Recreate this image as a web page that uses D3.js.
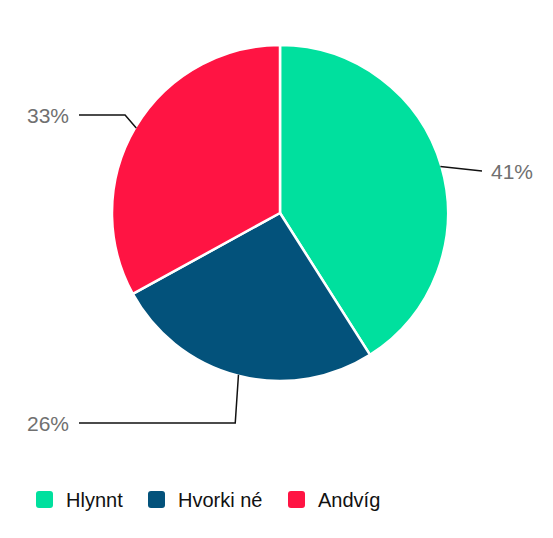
<!DOCTYPE html>
<html>
<head>
<meta charset="utf-8">
<script src="https://cdn.jsdelivr.net/npm/d3@7"></script>
<style>
  body { margin: 0; background: #fff; }
  svg { font-family: "Liberation Sans", Arial, sans-serif; }
</style>
</head>
<body>
<div id="chart"></div>
<script>
// chart data
const categories = ["Hlynnt", "Hvorki né", "Andvíg"];
const values = [41, 26, 33];
const colors = ["#00e09e", "#03527b", "#ff1443"];

const width = 553;
const height = 538;
const cx = 280;
const cy = 213;
const radius = 168;

// vertical spot of each outside label (layout only)
const labelY = [171, 423, 115];

const svg = d3.select("#chart")
              .append("svg")
              .attr("width", width)
              .attr("height", height);

const data = categories.map((c, i) => ({ name: c, value: values[i], color: colors[i], ly: labelY[i] }));

const pie = d3.pie().sort(null).value((d) => d.value);
const arc = d3.arc().innerRadius(0).outerRadius(radius);
const arcs = pie(data);

const g = svg.append("g").attr("transform", "translate(" + cx + "," + cy + ")");

g.selectAll("path")
 .data(arcs)
 .enter()
 .append("path")
 .attr("d", arc)
 .attr("fill", (d) => d.data.color)
 .attr("stroke", "#fff")
 .attr("stroke-width", 2.5)
 .attr("stroke-linejoin", "round");

// leader lines + percentage labels
const total = d3.sum(values);
arcs.forEach((d) => {
    const mid = (d.startAngle + d.endAngle) / 2;
    const sx = Math.sin(mid), sy = -Math.cos(mid);
    const edge = [sx * (radius - 1), sy * (radius - 1)];
    const ly = d.data.ly - cy;
    const right = sx > 0;
    let pts;
    let tx;
    if (right) {
        tx = 211;
        pts = [edge, [tx - 9, ly]];
    } else {
        tx = -201;
        const kx = sx * (radius + 12);
        pts = [edge, [kx, ly], [tx, ly]];
    }
    g.append("path")
     .attr("d", d3.line()(pts))
     .attr("fill", "none")
     .attr("stroke", "#111")
     .attr("stroke-width", 1.5);
    g.append("text")
     .attr("x", right ? tx : tx - 10)
     .attr("y", ly)
     .attr("dy", "0.36em")
     .attr("text-anchor", right ? "start" : "end")
     .attr("font-size", "21px")
     .attr("fill", "#707070")
     .text(Math.round(d.data.value / total * 100) + "%");
});

// legend
const legendX = [36, 148, 288];
const legend = svg.append("g").attr("transform", "translate(0,499.5)");
data.forEach((d, i) => {
    legend.append("rect")
          .attr("x", legendX[i])
          .attr("y", -8.5)
          .attr("width", 17)
          .attr("height", 17)
          .attr("rx", 3)
          .attr("fill", d.color);
    legend.append("text")
          .attr("x", legendX[i] + 30)
          .attr("y", 0)
          .attr("dy", "0.36em")
          .attr("font-size", "20px")
          .attr("fill", "#111")
          .text(d.name);
});
</script>
</body>
</html>
